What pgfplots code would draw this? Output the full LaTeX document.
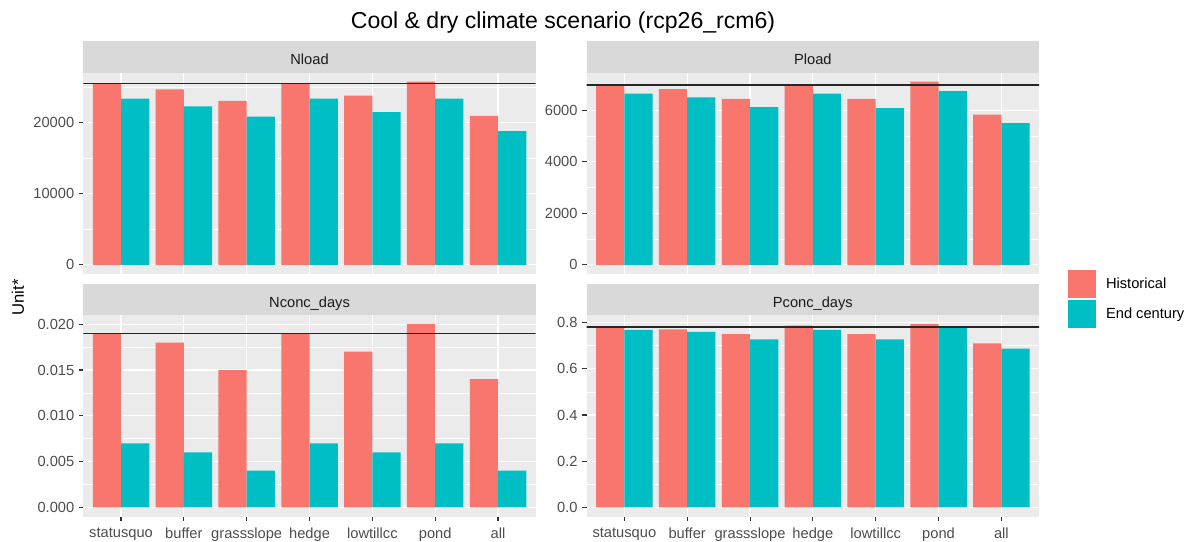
\documentclass[border=0pt]{standalone}
\usepackage{pgfplots}
\pgfplotsset{compat=1.18}
\usepackage{pgfplotstable}
\usepackage{fontspec}
\setmainfont{Liberation Sans}

\definecolor{histc}{HTML}{F8766D}
\definecolor{endc}{HTML}{00BFC4}
\definecolor{panelbg}{HTML}{EBEBEB}
\definecolor{stripc}{HTML}{D9D9D9}
\definecolor{ticktext}{HTML}{4D4D4D}
\definecolor{tickc}{HTML}{333333}
\definecolor{striptext}{HTML}{1A1A1A}

% scenario: 1 statusquo, 2 buffer, 3 grassslope, 4 hedge, 5 lowtillcc, 6 pond, 7 all
\pgfplotstableread{
x hist endc
1 25500 23350
2 24650 22280
3 23020 20840
4 25500 23350
5 23780 21440
6 25730 23350
7 20920 18780
}\nloadtab

\pgfplotstableread{
x hist endc
1 6970 6650
2 6820 6500
3 6440 6120
4 6970 6650
5 6440 6080
6 7110 6740
7 5830 5500
}\ploadtab

\pgfplotstableread{
x hist endc
1 0.019 0.007
2 0.018 0.006
3 0.015 0.004
4 0.019 0.007
5 0.017 0.006
6 0.020 0.007
7 0.014 0.004
}\nconctab

\pgfplotstableread{
x hist endc
1 0.780 0.768
2 0.771 0.760
3 0.750 0.727
4 0.787 0.768
5 0.750 0.727
6 0.793 0.780
7 0.710 0.687
}\pconctab

\pgfplotsset{
  facet/.style={
    scale only axis, width=339.3pt, height=151.1pt,
    xmin=0.4, xmax=7.6, xtick={1,...,7},
    axis background/.style={fill=panelbg},
    axis line style={draw=none},
    xmajorgrids, ymajorgrids, yminorgrids,
    major grid style={white, line width=0.9pt},
    minor grid style={white, line width=0.45pt},
    tick align=outside, ytick pos=left, xtick pos=bottom,
    major tick length=3.3pt, minor tick length=0pt,
    tick style={color=tickc, line width=0.8pt},
    ticklabel style={font=\fontsize{11}{13}\selectfont, text=ticktext},
    xticklabel shift=2pt,
  },
  toprow/.style={xticklabels={}, xtick style={draw=none}},
  botrow/.style={xticklabels={statusquo,buffer,grassslope,hedge,lowtillcc,pond,all}},
  histbar/.style={ybar, bar width=0.45, bar shift=-0.225, fill=histc, draw=none},
  endbar/.style={ybar, bar width=0.45, bar shift=0.225, fill=endc, draw=none},
  refline/.style={black!85, line width=1.2pt, sharp plot, mark=none, forget plot},
}

\begin{document}
\begin{tikzpicture}
\path[use as bounding box] (0,0) rectangle (897pt,406.5pt);

\begin{axis}[facet, toprow, name=nload, at={(62.5pt,201pt)}, anchor=south west,
  ymin=-1287, ymax=27021,
  ytick={0,10000,20000}, yticklabels={0,10000,20000},
  minor ytick={5000,15000,25000}]
  \addplot[histbar] table[x=x,y=hist]{\nloadtab};
  \addplot[endbar] table[x=x,y=endc]{\nloadtab};
  \addplot[refline] coordinates {(0.3,25500) (7.7,25500)};
\end{axis}

\begin{axis}[facet, toprow, name=pload, at={(440pt,201pt)}, anchor=south west,
  ymin=-355.5, ymax=7465.5,
  ytick={0,2000,4000,6000}, yticklabels={0,2000,4000,6000},
  minor ytick={1000,3000,5000,7000}]
  \addplot[histbar] table[x=x,y=hist]{\ploadtab};
  \addplot[endbar] table[x=x,y=endc]{\ploadtab};
  \addplot[refline] coordinates {(0.3,6970) (7.7,6970)};
\end{axis}

\begin{axis}[facet, botrow, name=nconc, at={(62.5pt,19.1pt)}, anchor=south west,
  ymin=-0.001, ymax=0.021,
  ytick={0,0.005,0.010,0.015,0.020},
  yticklabels={0.000,0.005,0.010,0.015,0.020},
  minor ytick={0.0025,0.0075,0.0125,0.0175}]
  \addplot[histbar] table[x=x,y=hist]{\nconctab};
  \addplot[endbar] table[x=x,y=endc]{\nconctab};
  \addplot[refline] coordinates {(0.3,0.019) (7.7,0.019)};
\end{axis}

\begin{axis}[facet, botrow, name=pconc, at={(440pt,19.1pt)}, anchor=south west,
  ymin=-0.03965, ymax=0.83265,
  ytick={0,0.2,0.4,0.6,0.8}, yticklabels={0.0,0.2,0.4,0.6,0.8},
  minor ytick={0.1,0.3,0.5,0.7},
  legend style={at={(axis description cs:1.0641,1.2233)}, anchor=north west,
    draw=none, fill=none, inner sep=0pt, outer sep=0pt, row sep=1.9pt,
    font=\fontsize{11}{13}\selectfont,
    nodes={inner xsep=7.5pt, inner ysep=0pt, anchor=west}},
  legend cell align=left,
  legend image code/.code={\fill[#1,draw=none] (0pt,-10.4pt) rectangle (21pt,10.4pt);}]
  \addplot[histbar] table[x=x,y=hist]{\pconctab};
  \addlegendentry{Historical}
  \addplot[endbar] table[x=x,y=endc]{\pconctab};
  \addlegendentry{End century}
  \addplot[refline] coordinates {(0.3,0.780) (7.7,0.780)};
\end{axis}

% facet strips
\foreach \n/\t in {nload/Nload, pload/Pload, nconc/Nconc\_days, pconc/Pconc\_days} {
  \fill[stripc] (\n.north west) rectangle ([yshift=23.6pt]\n.north east);
  \node[anchor=base, font=\fontsize{11}{13}\selectfont, text=striptext, inner sep=0pt]
    at ([yshift=5.8pt]\n.north) {\t};
}

\node[anchor=base, font=\fontsize{17.3}{20}\selectfont, inner sep=0pt]
  at (422.25pt,385.3pt) {Cool \& dry climate scenario (rcp26\_rcm6)};
\node[rotate=90, font=\fontsize{12.5}{15}\selectfont, inner sep=0pt]
  at (13.5pt,183.4pt) {Unit*};
\end{tikzpicture}
\end{document}
